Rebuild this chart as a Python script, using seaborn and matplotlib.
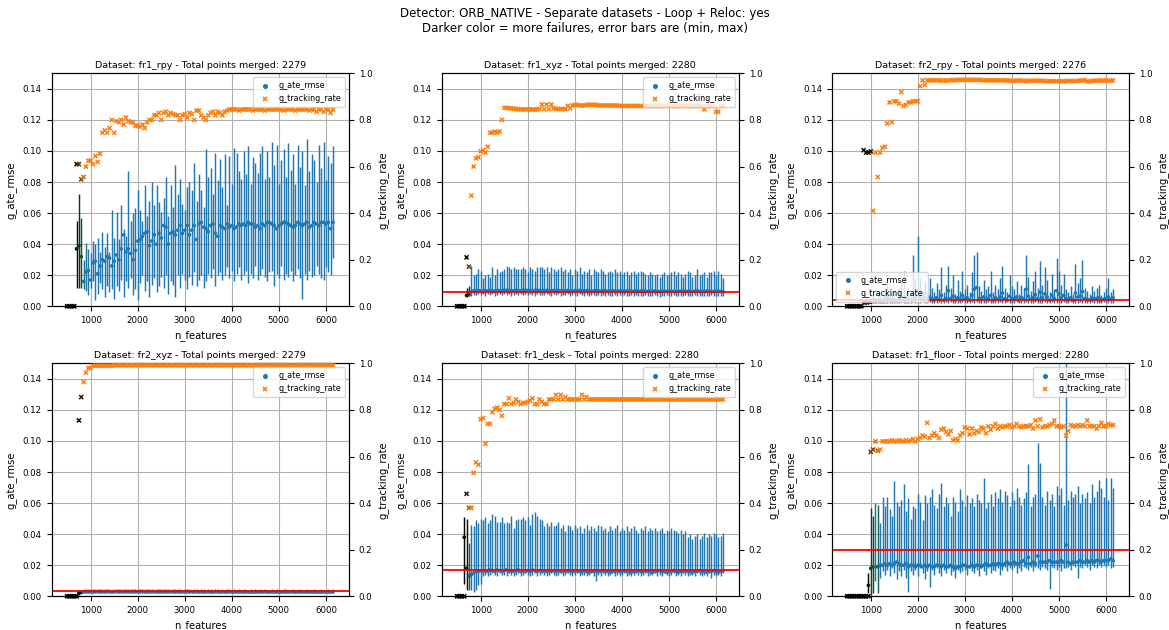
import numpy as np
import matplotlib
matplotlib.use("Agg")
import matplotlib.pyplot as plt
import seaborn as sns
from matplotlib.colors import to_hex
from matplotlib.lines import Line2D

# ---------------- data ----------------
n_features = list(range(500, 6151, 50))  # 114 values

datasets = ["fr1_rpy", "fr1_xyz", "fr2_rpy", "fr2_xyz", "fr1_desk", "fr1_floor"]
points_merged = [2279, 2280, 2276, 2279, 2280, 2280]
ref_rmse = [None, 0.009, 0.004, 0.0035, 0.017, 0.030]

# ---- fr1_rpy ----
fr1_rpy_mean = [0, 0, 0, 0, .037, .039, .032, .016, .022, .023,
                .017, .028, .029, .021, .026, .030, .029, .032, .031, .026,
                .029, .033, .030, .037, .046, .035, .037, .034, .030, .036,
                .042, .043, .045, .047, .048, .039, .042, .046, .040, .047,
                .044, .052, .051, .040, .047, .048, .046, .049, .052, .047,
                .049, .052, .046, .049, .052, .043, .053, .054, .051, .050,
                .048, .052, .053, .047, .045, .052, .051, .050, .053, .051,
                .052, .050, .051, .053, .052, .053, .052, .054, .053, .053,
                .051, .052, .050, .053, .052, .054, .054, .053, .052, .050,
                .052, .053, .054, .054, .053, .052, .051, .052, .054, .053,
                .052, .053, .054, .051, .052, .054, .053, .052, .054, .054,
                .053, .054, .050, .054]
fr1_rpy_hi = [0, 0, 0, 0, .055, .072, .057, .030, .041, .037,
              .034, .042, .040, .044, .035, .048, .038, .047, .035, .062,
              .044, .061, .043, .065, .050, .045, .087, .055, .060, .063,
              .075, .062, .055, .078, .058, .068, .080, .065, .078, .067,
              .061, .070, .083, .058, .078, .064, .091, .072, .082, .066,
              .062, .077, .080, .075, .092, .068, .085, .075, .064, .101,
              .083, .089, .072, .099, .081, .095, .077, .098, .065, .097,
              .079, .102, .099, .087, .082, .100, .085, .103, .079, .096,
              .092, .086, .099, .103, .082, .100, .083, .106, .091, .104,
              .079, .094, .101, .083, .105, .088, .098, .079, .104, .090,
              .100, .078, .108, .087, .098, .094, .080, .104, .089, .106,
              .081, .097, .092, .103]
fr1_rpy_lo = [0, 0, 0, 0, .012, .012, .012, .011, .010, .007,
              .012, .016, .004, .008, .015, .011, .006, .013, .009, .011,
              .005, .013, .010, .017, .006, .016, .012, .018, .007, .011,
              .004, .015, .020, .010, .016, .006, .014, .018, .009, .013,
              .019, .012, .020, .008, .016, .014, .006, .020, .012, .021,
              .017, .011, .019, .014, .022, .013, .017, .020, .012, .016,
              .021, .018, .024, .013, .020, .022, .017, .020, .025, .018,
              .023, .016, .021, .025, .017, .020, .023, .015, .021, .018,
              .026, .017, .020, .024, .019, .016, .022, .023, .013, .021,
              .018, .026, .017, .021, .019, .023, .016, .020, .024, .018,
              .005, .021, .017, .023, .019, .020, .026, .021, .018, .017,
              .025, .022, .020, .031]
fr1_rpy_track = [0, 0, 0, 0, .61, .61, .545, .555, .60, .625,
                 .625, .61, .645, .62, .655, .745, .755, .745, .765, .80,
                 .745, .795, .79, .80, .78, .81, .795, .79, .79, .775,
                 .775, .77, .78, .765, .79, .80, .80, .82, .82, .83,
                 .80, .83, .835, .82, .83, .825, .82, .82, .80, .82,
                 .825, .81, .83, .825, .80, .84, .84, .82, .81, .80,
                 .82, .83, .835, .82, .835, .83, .82, .835, .84, .845,
                 .845, .845, .845, .84, .845, .845, .845, .845, .845, .84,
                 .845, .845, .845, .845, .84, .845, .845, .845, .845, .845,
                 .845, .845, .84, .845, .845, .845, .845, .84, .845, .845,
                 .845, .845, .845, .84, .845, .845, .835, .845, .845, .835,
                 .845, .845, .83, .845]
fr1_rpy_fail = [1, 1, 1, 1, .85, .6, .45, .15, .05]

# ---- fr1_xyz ----
fr1_xyz_mean = [0, 0, 0, 0, .0070, .0075, .0095, .0100, .0098, .0102,
                .0100, .0097, .0101, .0099, .0103, .0100, .0098, .0102, .0101, .0099,
                .0104, .0103, .0101, .0102, .0100, .0103, .0101, .0100, .0102, .0104,
                .0101, .0103, .0100, .0102, .0104, .0101, .0099, .0102, .0103, .0100,
                .0101, .0102, .0100, .0103, .0099, .0101, .0100, .0102, .0098, .0100,
                .0101, .0099, .0102, .0100, .0098, .0101, .0100, .0097, .0099, .0101,
                .0100, .0098, .0099, .0101, .0097, .0099, .0100, .0098, .0097, .0099,
                .0098, .0100, .0097, .0099, .0098, .0096, .0099, .0097, .0098, .0100,
                .0097, .0096, .0098, .0097, .0099, .0096, .0095, .0097, .0098, .0096,
                .0097, .0098, .0096, .0095, .0097, .0098, .0096, .0097, .0095, .0098,
                .0096, .0097, .0099, .0096, .0095, .0097, .0098, .0096, .0097, .0095,
                .0097, .0098, .0096, .0094]
fr1_xyz_hi = [0, 0, 0, 0, .012, .013, .026, .020, .021, .024,
              .023, .018, .020, .021, .019, .025, .020, .024, .022, .023,
              .024, .026, .025, .024, .025, .024, .024, .024, .025, .024,
              .022, .025, .024, .023, .025, .025, .025, .024, .025, .022,
              .025, .024, .023, .024, .025, .023, .024, .022, .024, .020,
              .024, .023, .025, .021, .023, .022, .024, .020, .024, .023,
              .022, .024, .023, .021, .022, .023, .022, .024, .022, .023,
              .021, .022, .023, .020, .022, .023, .021, .022, .023, .022,
              .021, .020, .022, .021, .020, .021, .019, .021, .022, .020,
              .021, .022, .023, .020, .022, .021, .019, .021, .023, .022,
              .019, .020, .024, .020, .021, .022, .019, .022, .022, .023,
              .020, .023, .021, .018]
fr1_xyz_lo = [0, 0, 0, 0, .0060, .0065, .0068, .0075, .0070, .0078,
              .0072, .0080, .0069, .0076, .0073, .0079, .0068, .0074, .0081, .0070,
              .0077, .0072, .0080, .0069, .0075, .0078, .0071, .0076, .0073, .0080,
              .0070, .0077, .0074, .0068, .0079, .0072, .0075, .0070, .0078, .0073,
              .0069, .0076, .0071, .0078, .0067, .0074, .0072, .0077, .0068, .0075,
              .0071, .0066, .0076, .0072, .0069, .0074, .0067, .0073, .0070, .0065,
              .0072, .0068, .0074, .0066, .0071, .0069, .0064, .0073, .0067, .0070,
              .0065, .0072, .0068, .0063, .0070, .0066, .0071, .0064, .0069, .0067,
              .0070, .0063, .0068, .0066, .0071, .0064, .0062, .0069, .0066, .0071,
              .0064, .0068, .0070, .0063, .0067, .0069, .0065, .0070, .0064, .0068,
              .0066, .0071, .0065, .0068, .0063, .0069, .0067, .0064, .0070, .0066,
              .0068, .0065, .0069, .0067]
fr1_xyz_track = [0, 0, 0, 0, .21, .17, .475, .60, .635, .64,
                 .665, .67, .66, .685, .745, .745, .75, .745, .75, .80,
                 .852, .852, .85, .85, .848, .847, .846, .845, .845, .845,
                 .845, .845, .845, .845, .845, .847, .866, .846, .866, .846,
                 .866, .85, .847, .847, .847, .847, .846, .86, .85, .862,
                 .865, .865, .862, .862, .862, .865, .865, .865, .865, .865,
                 .862, .862, .862, .862, .862, .862, .862, .862, .862, .860,
                 .860, .860, .860, .860, .860, .860, .860, .860, .860, .860,
                 .860, .860, .860, .860, .860, .860, .860, .860, .860, .860,
                 .860, .860, .860, .860, .860, .860, .860, .860, .860, .860,
                 .860, .860, .860, .860, .860, .845, .860, .860, .860, .860,
                 .835, .835, .860, .860]
fr1_xyz_fail = [1, 1, 1, 1, .9, .55]

# ---- fr2_rpy ----
fr2_rpy_mean = [0, 0, 0, 0, 0, 0, 0, .0025, .0022, .0024,
                .0026, .0035, .0030, .0040, .0035, .0030, .0040, .0060, .0045, .0035,
                .0040, .0035, .0045, .0050, .0060, .0040, .0045, .0042, .0080, .0055,
                .0100, .0060, .0045, .0050, .0040, .0060, .0048, .0040, .0055, .0045,
                .0070, .0040, .0050, .0100, .0050, .0065, .0040, .0055, .0045, .0070,
                .0050, .0055, .0040, .0070, .0110, .0120, .0050, .0045, .0060, .0045,
                .0050, .0070, .0040, .0055, .0045, .0060, .0085, .0050, .0040, .0065,
                .0050, .0045, .0060, .0040, .0055, .0050, .0110, .0065, .0045, .0055,
                .0075, .0050, .0090, .0055, .0080, .0060, .0040, .0070, .0050, .0100,
                .0080, .0055, .0070, .0050, .0040, .0055, .0040, .0085, .0060, .0065,
                .0095, .0050, .0045, .0040, .0055, .0045, .0050, .0055, .0040, .0045,
                .0050, .0060, .0045, .0055]
fr2_rpy_hi = [0, 0, 0, 0, 0, 0, 0, .004, .004, .004,
              .005, .008, .006, .010, .009, .007, .011, .021, .012, .008,
              .010, .007, .012, .015, .023, .009, .012, .010, .033, .018,
              .045, .018, .010, .016, .008, .018, .012, .009, .015, .011,
              .025, .009, .014, .026, .012, .020, .008, .017, .010, .023,
              .011, .014, .009, .022, .033, .035, .013, .010, .017, .011,
              .013, .023, .009, .014, .011, .018, .026, .012, .009, .020,
              .013, .011, .016, .008, .014, .012, .033, .019, .010, .016,
              .023, .012, .029, .014, .025, .017, .009, .021, .011, .031,
              .023, .014, .021, .011, .009, .013, .008, .027, .015, .018,
              .030, .012, .010, .008, .013, .010, .012, .014, .007, .009,
              .012, .018, .009, .011]
fr2_rpy_lo = [0, 0, 0, 0, 0, 0, 0, .0015, .0015, .0015,
              .0018, .0020, .0022, .0019, .0021, .0020, .0023, .0022, .0020, .0024,
              .0021, .0023, .0020, .0025, .0022, .0024, .0021, .0023, .0026, .0022,
              .0024, .0021, .0025, .0023, .0020, .0026, .0022, .0024, .0021, .0025,
              .0023, .0020, .0025, .0022, .0026, .0021, .0024, .0023, .0020, .0025,
              .0022, .0024, .0021, .0026, .0023, .0025, .0020, .0024, .0022, .0021,
              .0025, .0023, .0020, .0024, .0022, .0026, .0021, .0023, .0025, .0020,
              .0024, .0022, .0025, .0021, .0023, .0020, .0026, .0024, .0022, .0021,
              .0025, .0023, .0020, .0024, .0026, .0022, .0021, .0025, .0023, .0020,
              .0024, .0022, .0025, .0021, .0023, .0026, .0020, .0024, .0022, .0025,
              .0021, .0024, .0023, .0020, .0025, .0022, .0024, .0021, .0023, .0025,
              .0022, .0020, .0024, .0023]
fr2_rpy_track = [0, 0, 0, 0, 0, 0, 0, .67, .66, .66,
                 .665, .41, .66, .555, .66, .68, .685, .785, .875, .79,
                 .88, .88, .87, .92, .86, .865, .875, .875, .88, .88,
                 .88, .945, .97, .95, .97, .97, .97, .97, .97, .97,
                 .968, .970, .968, .970, .970, .972, .970, .972, .972, .972,
                 .972, .972, .972, .972, .972, .972, .972, .972, .970, .970,
                 .970, .970, .970, .970, .970, .970, .970, .970, .970, .968,
                 .968, .968, .968, .970, .968, .968, .966, .968, .968, .968,
                 .968, .968, .968, .968, .966, .966, .966, .966, .966, .966,
                 .966, .966, .966, .966, .966, .968, .966, .966, .968, .968,
                 .970, .970, .966, .964, .968, .968, .968, .970, .968, .968,
                 .970, .968, .968, .970]
fr2_rpy_fail = [1, 1, 1, 1, 1, 1, 1, .9, .92, .9, .85]

# ---- fr2_xyz ----
fr2_xyz_mean = [0, 0, 0, 0, 0, .0020, .0025, .0028, .0029, .0028,
                .0029, .0028, .0029, .0030, .0028, .0029, .0028, .0030, .0029, .0028,
                .0029, .0030, .0028, .0029, .0028, .0030, .0029, .0028, .0029, .0030,
                .0028, .0029, .0030, .0028, .0029, .0028, .0029, .0030, .0028, .0029,
                .0029, .0028, .0029, .0028, .0030, .0029, .0028, .0029, .0028, .0029,
                .0028, .0029, .0028, .0030, .0028, .0029, .0028, .0029, .0027, .0028,
                .0029, .0028, .0027, .0029, .0028, .0028, .0029, .0027, .0028, .0029,
                .0028, .0027, .0029, .0028, .0028, .0027, .0029, .0028, .0027, .0028,
                .0027, .0028, .0028, .0027, .0029, .0028, .0027, .0028, .0028, .0027,
                .0028, .0027, .0028, .0028, .0027, .0029, .0028, .0027, .0028, .0028,
                .0027, .0028, .0028, .0027, .0028, .0027, .0028, .0028, .0027, .0028,
                .0028, .0027, .0028, .0028]
fr2_xyz_hi = [0, 0, 0, 0, 0, .0040, .0040, .0045, .0046, .0045,
              .0046, .0047, .0045, .0047, .0046, .0044, .0047, .0045, .0046, .0043,
              .0045, .0047, .0044, .0046, .0045, .0048, .0044, .0046, .0047, .0045,
              .0044, .0046, .0045, .0047, .0044, .0045, .0046, .0043, .0045, .0046,
              .0045, .0044, .0046, .0045, .0043, .0045, .0046, .0044, .0045, .0043,
              .0045, .0044, .0046, .0043, .0045, .0044, .0043, .0045, .0044, .0042,
              .0044, .0045, .0043, .0044, .0045, .0042, .0044, .0043, .0045, .0044,
              .0043, .0044, .0042, .0045, .0043, .0044, .0042, .0043, .0045, .0042,
              .0044, .0043, .0045, .0042, .0044, .0043, .0042, .0044, .0043, .0045,
              .0043, .0042, .0044, .0046, .0043, .0042, .0044, .0043, .0042, .0044,
              .0043, .0042, .0044, .0043, .0042, .0044, .0043, .0042, .0044, .0043,
              .0042, .0044, .0043, .0045]
fr2_xyz_lo = [0, 0, 0, 0, 0, .0010, .0020, .0021, .0022, .0021,
              .0022, .0021, .0023, .0022, .0021, .0022, .0023, .0021, .0022, .0023,
              .0021, .0022, .0023, .0021, .0022, .0021, .0023, .0022, .0021, .0022,
              .0023, .0021, .0022, .0022, .0021, .0023, .0022, .0021, .0022, .0023,
              .0022, .0021, .0022, .0023, .0021, .0022, .0021, .0023, .0022, .0021,
              .0022, .0023, .0021, .0022, .0021, .0022, .0023, .0021, .0020, .0022,
              .0021, .0022, .0020, .0021, .0022, .0021, .0022, .0020, .0021, .0022,
              .0021, .0020, .0022, .0021, .0020, .0021, .0022, .0021, .0020, .0021,
              .0020, .0021, .0022, .0020, .0021, .0020, .0021, .0022, .0020, .0021,
              .0021, .0020, .0021, .0022, .0020, .0021, .0020, .0021, .0022, .0020,
              .0021, .0020, .0021, .0020, .0022, .0021, .0020, .0021, .0020, .0021,
              .0020, .0021, .0021, .0020]
fr2_xyz_track = [0, 0, 0, 0, 0, .755, .855, .92, .96, .98,
                 .98, .99, .99, .99, .99, .99, .99, .99, .99, .99,
                 .992, .992, .992, .992, .992, .992, .992, .992, .992, .992,
                 .992, .992, .992, .992, .992, .992, .992, .992, .992, .992,
                 .992, .992, .992, .992, .992, .992, .992, .992, .992, .992,
                 .992, .992, .992, .992, .992, .992, .992, .992, .992, .992,
                 .992, .992, .992, .992, .992, .992, .992, .992, .992, .992,
                 .992, .992, .992, .992, .992, .992, .992, .992, .992, .992,
                 .992, .992, .992, .992, .992, .992, .992, .992, .992, .992,
                 .992, .992, .992, .992, .992, .992, .992, .992, .992, .992,
                 .992, .992, .992, .992, .992, .992, .992, .992, .992, .992,
                 .992, .992, .992, .992]
fr2_xyz_fail = [1, 1, 1, 1, 1, .9, .8]

# ---- fr1_desk ----
fr1_desk_mean = [0, 0, 0, .038, .018, .013, .014, .015, .016, .016,
                 .0165, .016, .0165, .016, .017, .0165, .016, .017, .0165, .016,
                 .0165, .017, .016, .0165, .016, .0165, .017, .016, .0165, .016,
                 .0165, .016, .017, .0165, .016, .0165, .016, .0165, .016, .0165,
                 .016, .0165, .016, .0165, .016, .016, .0165, .016, .0165, .016,
                 .016, .0165, .016, .016, .0165, .016, .0155, .016, .016, .0165,
                 .016, .016, .0165, .016, .016, .0155, .016, .016, .0165, .016,
                 .016, .0165, .016, .016, .0155, .016, .016, .0165, .016, .016,
                 .0165, .016, .016, .0155, .016, .016, .0165, .016, .016, .0155,
                 .016, .016, .0165, .016, .0155, .016, .016, .0165, .016, .016,
                 .0155, .016, .016, .0165, .016, .016, .0155, .016, .016, .0165,
                 .016, .0155, .016, .0165]
fr1_desk_hi = [0, 0, 0, .051, .050, .034, .046, .045, .049, .047,
               .050, .049, .051, .047, .049, .053, .052, .048, .048, .051,
               .047, .048, .047, .052, .044, .049, .050, .050, .051, .049,
               .051, .046, .053, .054, .052, .050, .049, .045, .047, .045,
               .048, .045, .046, .048, .044, .046, .042, .046, .045, .043,
               .046, .044, .045, .041, .044, .046, .043, .045, .044, .042,
               .046, .045, .043, .044, .042, .045, .043, .044, .046, .042,
               .044, .043, .045, .042, .044, .045, .043, .041, .044, .043,
               .045, .042, .044, .043, .044, .042, .043, .044, .041, .043,
               .042, .044, .043, .042, .041, .043, .040, .042, .038, .040,
               .037, .039, .040, .037, .039, .041, .038, .040, .039, .041,
               .040, .038, .039, .041]
fr1_desk_lo = [0, 0, 0, .008, .004, .004, .004, .003, .004, .007,
               .008, .013, .014, .013, .014, .015, .014, .013, .015, .014,
               .014, .013, .015, .014, .013, .014, .015, .013, .014, .015,
               .014, .013, .014, .015, .013, .014, .015, .014, .013, .014,
               .015, .014, .013, .014, .015, .013, .014, .015, .014, .013,
               .014, .015, .013, .014, .014, .013, .014, .015, .013, .010,
               .014, .013, .015, .014, .013, .014, .015, .013, .014, .013,
               .014, .015, .013, .014, .013, .014, .015, .014, .013, .014,
               .015, .013, .014, .014, .015, .013, .014, .013, .015, .014,
               .013, .014, .015, .013, .014, .013, .015, .014, .013, .014,
               .014, .013, .015, .014, .013, .014, .013, .015, .012, .014,
               .013, .014, .013, .015]
fr1_desk_track = [0, 0, 0, 0, .44, .38, .38, .53, .575, .565,
                  .76, .765, .655, .74, .74, .79, .805, .81, .80, .775,
                  .825, .825, .85, .825, .83, .845, .835, .825, .83, .83,
                  .835, .84, .85, .825, .825, .845, .835, .825, .825, .845,
                  .845, .845, .865, .845, .865, .845, .855, .845, .845, .845,
                  .845, .845, .845, .865, .845, .855, .845, .845, .845, .845,
                  .845, .845, .845, .845, .845, .845, .845, .845, .845, .845,
                  .845, .845, .845, .845, .845, .845, .845, .845, .845, .845,
                  .845, .845, .845, .845, .845, .845, .845, .845, .845, .845,
                  .845, .845, .845, .845, .845, .845, .845, .845, .845, .845,
                  .845, .845, .845, .845, .845, .845, .845, .845, .845, .845,
                  .845, .845, .845, .845]
fr1_desk_fail = [1, 1, 1, .95, .8, .3, .05]

# ---- fr1_floor ----
fr1_floor_mean = [0, 0, 0, 0, 0, 0, 0, 0, 0, .007,
                  .018, .019, .019, .019, .020, .020, .021, .020, .021, .020,
                  .021, .022, .021, .020, .020, .021, .019, .020, .020, .019,
                  .020, .020, .019, .020, .019, .020, .019, .019, .020, .020,
                  .019, .020, .019, .019, .020, .019, .018, .019, .019, .020,
                  .020, .019, .019, .020, .019, .020, .020, .019, .020, .021,
                  .020, .020, .021, .020, .021, .021, .020, .021, .022, .021,
                  .021, .022, .021, .021, .022, .023, .021, .025, .021, .022,
                  .021, .026, .022, .022, .022, .022, .023, .022, .022, .022,
                  .022, .023, .022, .033, .022, .021, .022, .022, .022, .023,
                  .022, .022, .023, .022, .023, .022, .023, .023, .022, .023,
                  .023, .023, .024, .023]
fr1_floor_hi = [0, 0, 0, 0, 0, 0, 0, 0, 0, .015,
                .057, .052, .060, .059, .047, .064, .058, .064, .056, .052,
                .074, .061, .058, .062, .072, .055, .063, .050, .058, .057,
                .066, .061, .049, .065, .060, .064, .069, .059, .057, .066,
                .073, .058, .064, .060, .052, .064, .061, .055, .069, .062,
                .058, .065, .060, .063, .058, .066, .062, .060, .076, .057,
                .061, .066, .058, .067, .063, .069, .061, .068, .065, .058,
                .067, .062, .070, .064, .059, .063, .067, .085, .058, .064,
                .066, .099, .086, .064, .059, .068, .062, .066, .058, .071,
                .065, .070, .059, .155, .062, .068, .064, .066, .071, .060,
                .066, .063, .067, .060, .072, .064, .068, .075, .070, .064,
                .076, .062, .076, .070]
fr1_floor_lo = [0, 0, 0, 0, 0, 0, 0, 0, 0, .002,
                .001, .002, .010, .002, .012, .016, .014, .017, .013, .018,
                .015, .011, .016, .013, .017, .012, .003, .016, .014, .017,
                .013, .018, .015, .011, .016, .006, .017, .014, .018, .015,
                .013, .017, .015, .018, .014, .016, .012, .017, .015, .016,
                .017, .014, .018, .016, .015, .017, .013, .018, .016, .014,
                .018, .015, .017, .016, .018, .014, .017, .019, .016, .018,
                .017, .019, .015, .018, .016, .019, .018, .017, .019, .016,
                .019, .018, .017, .019, .018, .017, .005, .019, .018, .017,
                .019, .016, .018, .018, .019, .017, .020, .019, .012, .019,
                .018, .020, .019, .017, .020, .019, .018, .020, .019, .020,
                .019, .020, .018, .019]
fr1_floor_track = [0, 0, 0, 0, 0, 0, 0, 0, 0, 0,
                   .62, .63, .665, .625, .63, .665, .665, .665, .665, .67,
                   .665, .665, .67, .665, .665, .67, .665, .67, .675, .665,
                   .675, .68, .69, .685, .745, .68, .69, .70, .69, .68,
                   .715, .72, .705, .695, .71, .67, .675, .67, .69, .70,
                   .725, .72, .695, .72, .70, .71, .705, .725, .72, .70,
                   .73, .715, .73, .74, .72, .73, .725, .73, .73, .735,
                   .725, .73, .74, .73, .725, .73, .73, .73, .735, .72,
                   .755, .73, .76, .725, .73, .73, .735, .74, .755, .73,
                   .73, .725, .73, .69, .71, .735, .73, .73, .735, .73,
                   .735, .73, .755, .73, .73, .73, .72, .73, .745, .73,
                   .73, .74, .735, .735]
fr1_floor_fail = [1, 1, 1, 1, 1, 1, 1, 1, 1, .9, .55, .45, .1, .3]

ate_mean = [fr1_rpy_mean, fr1_xyz_mean, fr2_rpy_mean, fr2_xyz_mean, fr1_desk_mean, fr1_floor_mean]
ate_lo = [fr1_rpy_lo, fr1_xyz_lo, fr2_rpy_lo, fr2_xyz_lo, fr1_desk_lo, fr1_floor_lo]
ate_hi = [fr1_rpy_hi, fr1_xyz_hi, fr2_rpy_hi, fr2_xyz_hi, fr1_desk_hi, fr1_floor_hi]
tracking = [fr1_rpy_track, fr1_xyz_track, fr2_rpy_track, fr2_xyz_track, fr1_desk_track, fr1_floor_track]
failures = [fr1_rpy_fail, fr1_xyz_fail, fr2_rpy_fail, fr2_xyz_fail, fr1_desk_fail, fr1_floor_fail]

for k in range(6):
    for arr in (ate_mean[k], ate_lo[k], ate_hi[k], tracking[k]):
        assert len(arr) == len(n_features), (datasets[k], len(arr))

# ---------------- style ----------------
BLUE = (0.122, 0.467, 0.706)
ORANGE = (1.0, 0.498, 0.055)


def shade_blue(f):
    r, g, b = BLUE
    return (r * (1 - f), g * (1 - f ** 2) * (1 - f) ** 0.3, b * (1 - f) ** 2)


def shade_orange(f):
    r, g, b = ORANGE
    return (r * (1 - f), g * (1 - f), b * (1 - f))


plt.rcParams["font.family"] = ["DejaVu Sans"]
fig, axes = plt.subplots(2, 3, figsize=(11.69, 6.3), dpi=100)
fig.subplots_adjust(left=0.0442, right=0.9658, top=0.8836, bottom=0.0535,
                    wspace=0.312, hspace=0.245)

x = np.array(n_features)
for k, ax in enumerate(axes.flat):
    mean = np.array(ate_mean[k])
    lo = np.array(ate_lo[k])
    hi = np.array(ate_hi[k])
    tr = np.array(tracking[k])
    f = np.zeros(len(x))
    f[:len(failures[k])] = failures[k]
    bcol = [to_hex(shade_blue(v)) for v in f]
    ocol = [to_hex(shade_orange(v)) for v in f]

    ax.grid(True, color="#b0b0b0", lw=0.8, zorder=0)
    ax.set_axisbelow(True)
    ax.vlines(x, lo, hi, colors=bcol, lw=1.05, zorder=2)
    sns.scatterplot(x=x, y=mean, hue=bcol, palette={c: c for c in set(bcol)},
                    marker="o", s=7, linewidth=0, legend=False, ax=ax,
                    zorder=3, clip_on=False)
    if ref_rmse[k] is not None:
        ax.axhline(ref_rmse[k], color="red", lw=1.3, zorder=4)
    ax.set_xlim(171, 6489)
    ax.set_ylim(0, 0.15)
    ax.set_yticks(np.arange(0, 0.141, 0.02))
    ax.set_xlabel("n_features", fontsize=7.2)
    ax.set_ylabel("g_ate_rmse", fontsize=7.2)
    ax.tick_params(labelsize=6.2)
    ax.set_title(f"Dataset: {datasets[k]} - Total points merged: {points_merged[k]}",
                 fontsize=6.8, pad=4)

    ax2 = ax.twinx()
    sns.scatterplot(x=x, y=tr, hue=ocol, palette={c: c for c in set(ocol)},
                    marker="x", s=9, linewidth=1.1, legend=False, ax=ax2,
                    zorder=3, clip_on=False)
    ax2.set_ylim(0, 1.0)
    ax2.set_xlim(171, 6489)
    ax2.set_ylabel("g_tracking_rate", fontsize=7.2)
    ax2.tick_params(labelsize=6.2)

    handles = [Line2D([], [], ls="", marker="o", ms=2.6, color=BLUE),
               Line2D([], [], ls="", marker="x", ms=3.2, mew=1.2, color=ORANGE)]
    loc = "lower left" if datasets[k] == "fr2_rpy" else "upper right"
    ax2.legend(handles, ["g_ate_rmse", "g_tracking_rate"], loc=loc, fontsize=5.8,
               framealpha=0.8, handletextpad=0.6, borderpad=0.5)

fig.suptitle("Detector: ORB_NATIVE - Separate datasets - Loop + Reloc: yes\n"
             "Darker color = more failures, error bars are (min, max)",
             fontsize=8.5, y=0.966, va="center")

fig.savefig("out.png", dpi=100)
